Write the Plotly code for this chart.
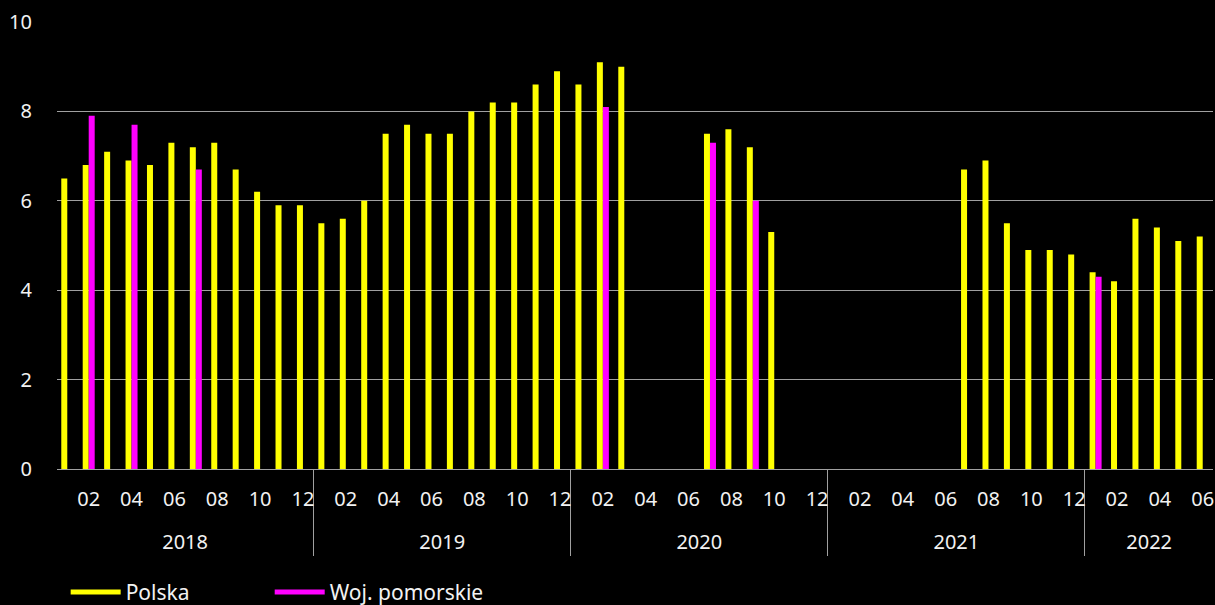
import plotly.graph_objects as go

years = ["2018"] * 12 + ["2019"] * 12 + ["2020"] * 12 + ["2021"] * 12 + ["2022"] * 6
# odd months are left unlabeled (unique blank strings keep categories distinct)
month_ticks = [" ", "02", "  ", "04", "   ", "06", "    ", "08", "     ", "10", "      ", "12"]
months = month_ticks * 4 + month_ticks[:6]

polska = [6.5, 6.8, 7.1, 6.9, 6.8, 7.3, 7.2, 7.3, 6.7, 6.2, 5.9, 5.9,
          5.5, 5.6, 6.0, 7.5, 7.7, 7.5, 7.5, 8.0, 8.2, 8.2, 8.6, 8.9,
          8.6, 9.1, 9.0, None, None, None, 7.5, 7.6, 7.2, 5.3, None, None,
          None, None, None, None, None, None, 6.7, 6.9, 5.5, 4.9, 4.9, 4.8,
          4.4, 4.2, 5.6, 5.4, 5.1, 5.2]
pomorskie = [None, 7.9, None, 7.7, None, None, 6.7, None, None, None, None, None,
             None, None, None, None, None, None, None, None, None, None, None, None,
             None, 8.1, None, None, None, None, 7.3, None, 6.0, None, None, None,
             None, None, None, None, None, None, None, None, None, None, None, None,
             4.3, None, None, None, None, None]

YELLOW = "#FFFF00"
MAGENTA = "#FF00FF"
GRID = "#a0a0a0"
TXT = "#f2f2f2"
FONT = "Noto Sans"

# an empty second line under each month label leaves room above the year row
month_display = [m + "<br>\u00a0" for m in months]

fig = go.Figure()
fig.add_trace(go.Bar(x=[years, month_display], y=polska, name="Polska",
                     marker=dict(color=YELLOW, line=dict(width=0)), showlegend=False))
fig.add_trace(go.Bar(x=[years, month_display], y=pomorskie, name="Woj. pomorskie",
                     marker=dict(color=MAGENTA, line=dict(width=0)), showlegend=False))
# legend entries drawn as lines
fig.add_trace(go.Scatter(x=[None], y=[None], mode="lines", name="Polska",
                         line=dict(color=YELLOW, width=5), legend="legend"))
fig.add_trace(go.Scatter(x=[None], y=[None], mode="lines", name="Woj. pomorskie",
                         line=dict(color=MAGENTA, width=5), legend="legend2"))

legend_common = dict(orientation="h", xanchor="left", yanchor="top",
                     font=dict(family=FONT, size=21, color=TXT),
                     itemwidth=50, bgcolor="rgba(0,0,0,0)")

fig.update_layout(
    width=1215, height=605,
    paper_bgcolor="black", plot_bgcolor="black",
    margin=dict(l=57, r=2, t=22, b=136, autoexpand=False),
    barmode="group", bargap=0.44, bargroupgap=0,
    font=dict(family=FONT, size=20, color=TXT),
    legend=dict(x=0.0075, y=-0.230, **legend_common),
    legend2=dict(x=0.1840, y=-0.230, **legend_common),
    yaxis=dict(range=[0, 10], dtick=2, showgrid=True, gridcolor=GRID, gridwidth=1,
               zeroline=True, zerolinecolor=GRID, zerolinewidth=1,
               tickfont=dict(family=FONT, size=20, color=TXT),
               ticks="", ticklabelstandoff=24, automargin=False),
    xaxis=dict(type="multicategory", range=[-0.48, 53.48], tickmode="linear", tick0=0, dtick=1,
               tickangle=0, automargin=False,
               showline=True, linecolor=GRID, linewidth=1,
               showgrid=False, ticks="", dividercolor=GRID, dividerwidth=1,
               ticklabelstandoff=12,
               tickfont=dict(family=FONT, size=20, color=TXT)),
)

fig.write_html("out.html", config={"displayModeBar": False},
               post_script="document.body.style.margin='0px';document.body.style.overflow='hidden';")
